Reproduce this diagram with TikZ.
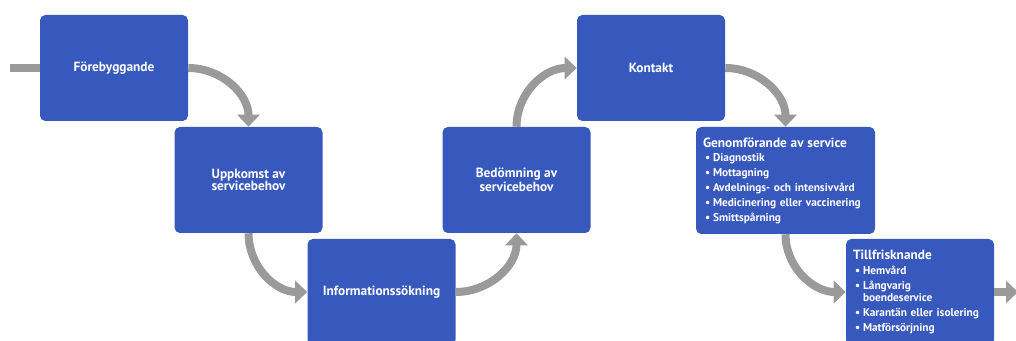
\documentclass[tikz,border=0pt]{standalone}
\usepackage{fontspec}
\setmainfont{PT Sans}
\usetikzlibrary{arrows.meta,positioning}
\definecolor{SPBlue} {HTML}{3759BD}
\definecolor{SPGray} {HTML}{9A9A9A}
\definecolor{SPWhite}{HTML}{FFFFFF}
\newcommand{\punkt}[1]{\hspace*{1.5pt}\makebox[6pt][l]{\textbullet}#1}

\begin{document}
\begin{tikzpicture}[x=0.75pt,y=-0.75pt,
    phase/.style={fill=SPBlue,rounded corners=4pt,inner sep=0pt,
      minimum width=111pt,minimum height=79.5pt,text=SPWhite,align=center,
      font=\bfseries\fontsize{10}{9.2}\selectfont},
    detail/.style={phase,align=left,font=\bfseries\fontsize{8.5}{11.1}\selectfont},
    flow/.style={draw=SPGray,line width=6pt,-{Triangle[width=16.5pt,length=9pt]}}]
    \useasboundingbox (0,0) rectangle (1016,341);

    % steps
    \node[phase] (fore) at (114,68)    {Förebyggande};
    \node[phase] (uppk) at (248.5,180) {Uppkomst av\\servicebehov};
    \node[phase] (info) at (381.5,292) {Informationssökning};
    \node[phase] (bedo) at (516.5,180) {Bedömning av\\servicebehov};
    \node[phase] (kont) at (651,68)    {Kontakt};
    \node[detail,minimum width=134.25pt,minimum height=80.25pt,text width=123.75pt]
      (genom) at (785.5,180.5) {{\fontsize{10}{11.1}\selectfont Genomförande av service}\\
        \punkt{Diagnostik}\\
        \punkt{Mottagning}\\
        \punkt{Avdelnings- och intensivvård}\\
        \punkt{Medicinering eller vaccinering}\\
        \punkt{Smittspårning}};
    \node[detail,text width=100.5pt]
      (till) at (920,292) {{\fontsize{10}{11.1}\selectfont Tillfrisknande}\\
        \punkt{Hemvård}\\
        \punkt{Långvarig}\\[-1.5pt]
        \hspace*{7.5pt}boendeservice\\
        \punkt{Karantän eller isolering}\\
        \punkt{Matförsörjning}};

    % arrows
    \coordinate (start) at (10,68);
    \coordinate (exit)  at (1018,292);
    \draw[draw=SPGray,line width=6pt] (start) -- (fore.west);
    \draw[flow] (fore.east)  to[out=0,in=90]   (uppk.north);
    \draw[flow] (uppk.south) to[out=-90,in=180] (info.west);
    \draw[flow] (info.east)  to[out=0,in=-90]  (bedo.south);
    \draw[flow] (bedo.north) to[out=90,in=180] (kont.west);
    \draw[flow] (kont.east)  to[out=0,in=90]   (genom.north);
    \draw[flow] (genom.south) to[out=-90,in=180] (till.west);
    \draw[flow] (till.east) -- (exit);
\end{tikzpicture}
\end{document}
